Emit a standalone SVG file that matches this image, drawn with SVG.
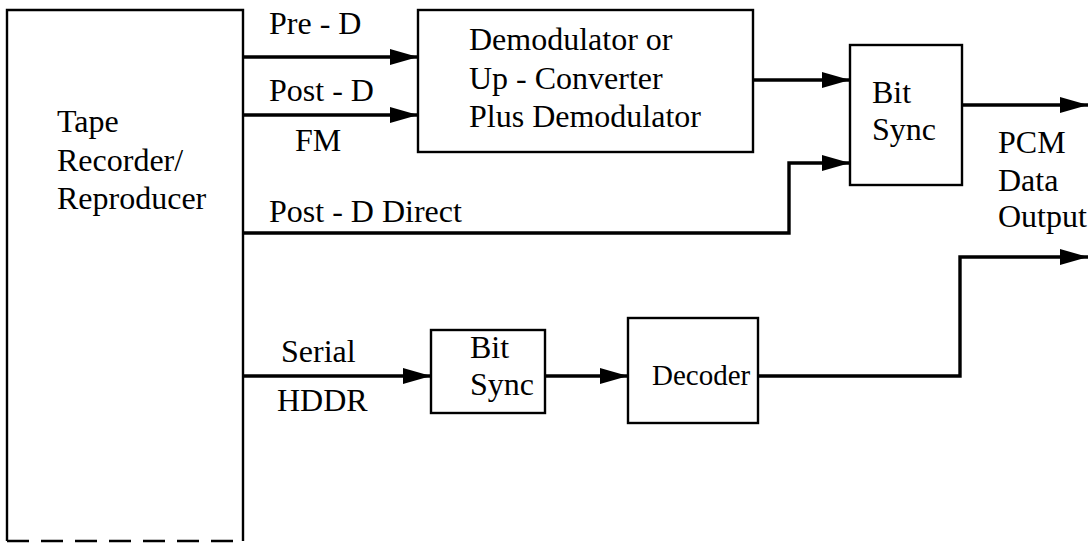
<svg xmlns="http://www.w3.org/2000/svg" width="1088" height="544" viewBox="0 0 1088 544">
<style>
.box{fill:#fff;stroke:#000;stroke-width:2.4}
.edge{fill:none;stroke:#000;stroke-width:2.4}
text{font-family:'Liberation Serif','Times New Roman','DejaVu Serif',serif;font-size:32px;fill:#000}
.c{fill:none;stroke:#000;stroke-width:3.4}
</style>
<defs>
<marker id="ah" viewBox="0 0 28 16" refX="28" refY="8" markerWidth="28" markerHeight="16" markerUnits="userSpaceOnUse" orient="auto">
<path d="M0,0 L28,8 L0,16 z" fill="#000"/>
</marker>
</defs>
<rect width="1088" height="544" fill="#fff"/>
<g id="tape">
<path class="edge" d="M7,541 V10 H243 V541"/>
<path class="edge" d="M7,541 H243" stroke-dasharray="22,12"/>
<text x="57" y="132">Tape</text>
<text x="57" y="171">Recorder/</text>
<text x="57" y="209">Reproducer</text>
</g>
<g id="demod">
<rect class="box" x="418" y="10" width="335" height="142"/>
<text x="469" y="50">Demodulator or</text>
<text x="469" y="89">Up - Converter</text>
<text x="469" y="127">Plus Demodulator</text>
</g>
<g id="bitsync1">
<rect class="box" x="850" y="45" width="112" height="140"/>
<text x="872" y="103">Bit</text>
<text x="872" y="140">Sync</text>
</g>
<g id="bitsync2">
<rect class="box" x="431" y="330" width="114" height="83"/>
<text x="470" y="358">Bit</text>
<text x="470" y="395">Sync</text>
</g>
<g id="decoder">
<rect class="box" x="628" y="318" width="130" height="105"/>
<text x="652" y="385" style="font-size:29px">Decoder</text>
</g>
<g id="connectors">
<path class="c" d="M243,57 H418" marker-end="url(#ah)"/>
<path class="c" d="M243,115 H418" marker-end="url(#ah)"/>
<path class="c" d="M753,80 H850" marker-end="url(#ah)"/>
<path class="c" d="M243,233 H789 V163 H850" marker-end="url(#ah)"/>
<path class="c" d="M962,105 H1088" marker-end="url(#ah)"/>
<path class="c" d="M243,376 H431" marker-end="url(#ah)"/>
<path class="c" d="M545,376 H628" marker-end="url(#ah)"/>
<path class="c" d="M758,376 H960 V257 H1088" marker-end="url(#ah)"/>
</g>
<g id="labels">
<text x="269" y="34">Pre - D</text>
<text x="269" y="101">Post - D</text>
<text x="295" y="151">FM</text>
<text x="269" y="222">Post - D Direct</text>
<text x="281" y="362">Serial</text>
<text x="277" y="411">HDDR</text>
<text x="998" y="153">PCM</text>
<text x="998" y="191">Data</text>
<text x="998" y="227">Output</text>
</g>
</svg>
